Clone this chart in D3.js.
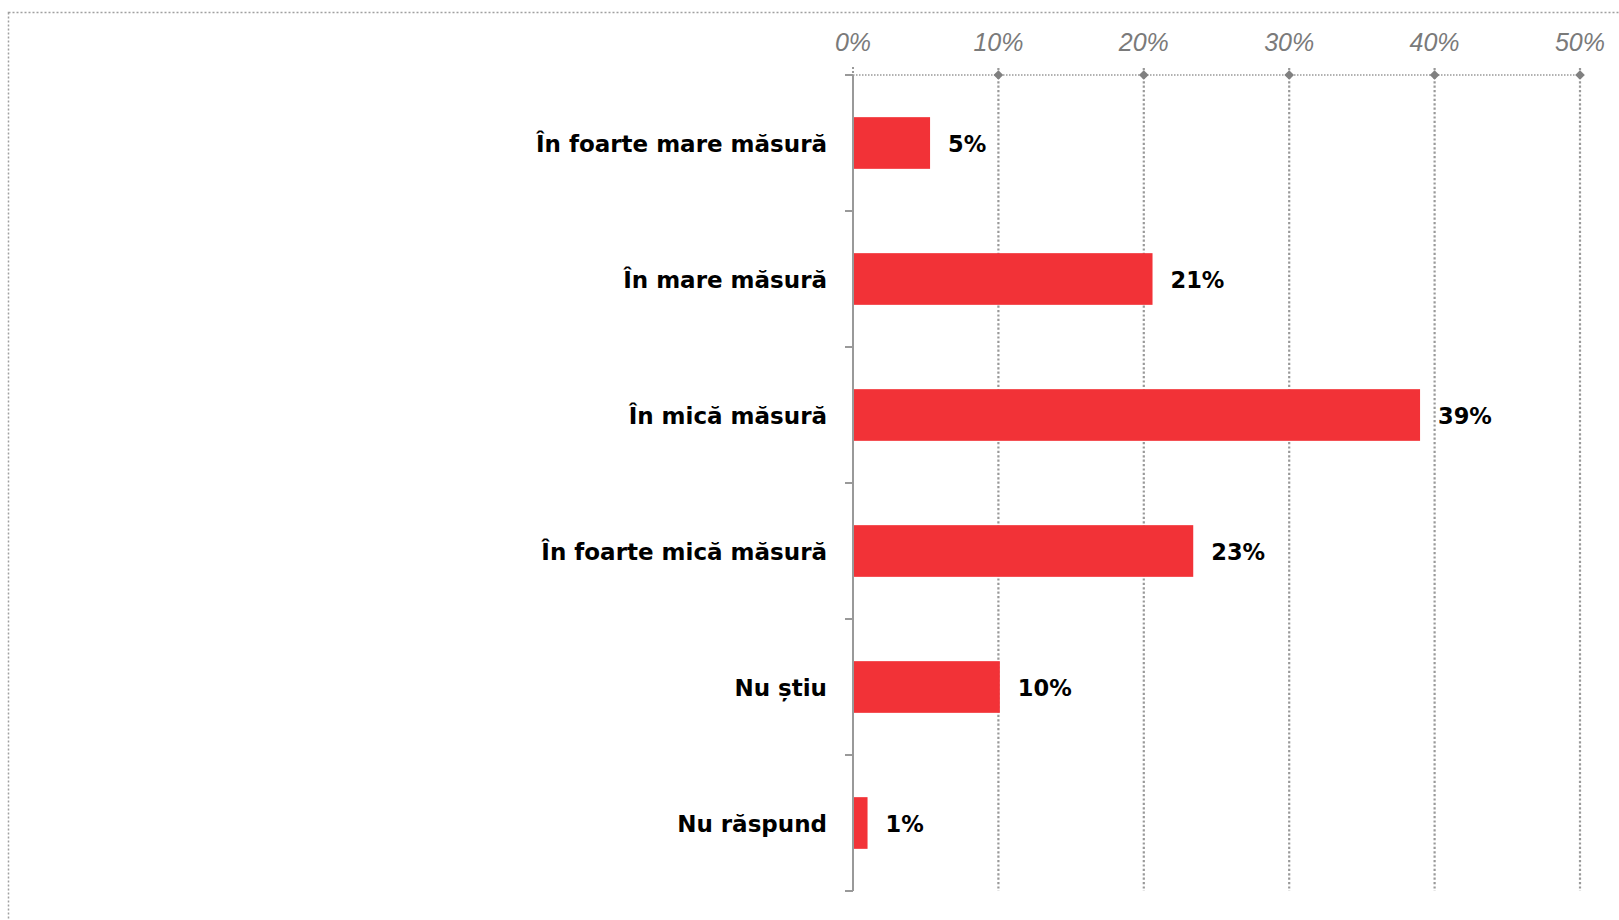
<!DOCTYPE html>
<html>
<head>
<meta charset="utf-8">
<script src="https://cdn.jsdelivr.net/npm/d3@7"></script>
<style>
  body { margin: 0; background: #fff; }
  svg { display: block; }
</style>
</head>
<body>
<div class="chart"></div>
<script>
var width = 1619;
var height = 920;

// data
var categories = ['În foarte mare măsură', 'În mare măsură', 'În mică măsură', 'În foarte mică măsură', 'Nu știu', 'Nu răspund'];
var values = [5.3, 20.6, 39, 23.4, 10.1, 1];
var valueLabels = ['5%', '21%', '39%', '23%', '10%', '1%'];
var ticks = [0, 10, 20, 30, 40, 50];

var data = categories.map(function(c, i){
	return { cat: c, value: values[i], label: valueLabels[i] };
});

var svg = d3.select('.chart')
	.append('svg')
	.attr('width', width)
	.attr('height', height);

// dotted frame
svg.append('rect')
	.attr('x', 8.5)
	.attr('y', 12.5)
	.attr('width', width + 20)
	.attr('height', height + 20)
	.attr('fill', 'none')
	.attr('stroke', '#a0a0a0')
	.attr('stroke-width', 1.5)
	.attr('stroke-dasharray', '2,2');

var x = d3.scaleLinear().domain([0, 50]).range([853, 1580]);
var y = d3.scaleBand()
	.domain(categories)
	.range([75, 891])
	.paddingInner(0.62)
	.paddingOuter(0.31);

// vertical dotted gridlines
svg.selectAll('.grid')
	.data(ticks.slice(1))
	.enter().append('line')
	.attr('class', 'grid')
	.attr('x1', function(d){ return x(d) })
	.attr('x2', function(d){ return x(d) })
	.attr('y1', 68)
	.attr('y2', 891)
	.attr('stroke', '#999')
	.attr('stroke-width', 2.2)
	.attr('stroke-dasharray', '2.2,2.2');

// small dotted tick above 0
svg.append('line')
	.attr('x1', x(0)).attr('x2', x(0))
	.attr('y1', 67).attr('y2', 75)
	.attr('stroke', '#999')
	.attr('stroke-width', 2)
	.attr('stroke-dasharray', '2,2');

// top dotted axis line
svg.append('line')
	.attr('x1', x(0)).attr('x2', x(50))
	.attr('y1', 75).attr('y2', 75)
	.attr('stroke', '#999')
	.attr('stroke-width', 1.5)
	.attr('stroke-dasharray', '1.5,1.5');

// diamond markers
svg.selectAll('.dia')
	.data(ticks.slice(1))
	.enter().append('path')
	.attr('class', 'dia')
	.attr('d', d3.symbol().type(d3.symbolDiamond2).size(60))
	.attr('transform', function(d){ return 'translate(' + x(d) + ',75)' })
	.attr('fill', '#808080');

// tick labels on top
svg.selectAll('.tick-label')
	.data(ticks)
	.enter().append('text')
	.attr('class', 'tick-label')
	.attr('x', function(d){ return x(d) })
	.attr('y', 51)
	.attr('text-anchor', 'middle')
	.attr('font-family', '"Liberation Sans Narrow", "Liberation Sans", sans-serif')
	.attr('font-style', 'italic')
	.attr('font-size', '25px')
	.attr('fill', '#7a7a7a')
	.text(function(d){ return d + '%' });

// left category axis line with ticks
var bounds = [75];
categories.forEach(function(c){ bounds.push(y(c) + y.bandwidth() / 2 + y.step() / 2) });

svg.append('line')
	.attr('x1', x(0)).attr('x2', x(0))
	.attr('y1', 75).attr('y2', 891)
	.attr('stroke', '#999')
	.attr('stroke-width', 2);

svg.selectAll('.ytick')
	.data(bounds)
	.enter().append('line')
	.attr('class', 'ytick')
	.attr('x1', x(0) - 8)
	.attr('x2', x(0))
	.attr('y1', function(d){ return d })
	.attr('y2', function(d){ return d })
	.attr('stroke', '#999')
	.attr('stroke-width', 2);

// bars
svg.selectAll('.bar')
	.data(data)
	.enter().append('rect')
	.attr('class', 'bar')
	.attr('x', x(0) + 1)
	.attr('y', function(d){ return y(d.cat) })
	.attr('width', function(d){ return x(d.value) - x(0) - 1 })
	.attr('height', y.bandwidth())
	.attr('fill', '#f23237');

// value labels
svg.selectAll('.val')
	.data(data)
	.enter().append('text')
	.attr('class', 'val')
	.attr('x', function(d){ return x(d.value) + 18 })
	.attr('y', function(d){ return y(d.cat) + y.bandwidth() / 2 })
	.attr('dy', '0.38em')
	.attr('font-family', '"DejaVu Sans", sans-serif')
	.attr('font-weight', 'bold')
	.attr('font-size', '22.5px')
	.attr('fill', '#000')
	.text(function(d){ return d.label });

// category labels
svg.selectAll('.cat')
	.data(data)
	.enter().append('text')
	.attr('class', 'cat')
	.attr('x', 827)
	.attr('y', function(d){ return y(d.cat) + y.bandwidth() / 2 })
	.attr('dy', '0.38em')
	.attr('text-anchor', 'end')
	.attr('font-family', '"DejaVu Sans", sans-serif')
	.attr('font-weight', 'bold')
	.attr('font-size', '23px')
	.attr('fill', '#000')
	.text(function(d){ return d.cat });
</script>
</body>
</html>
